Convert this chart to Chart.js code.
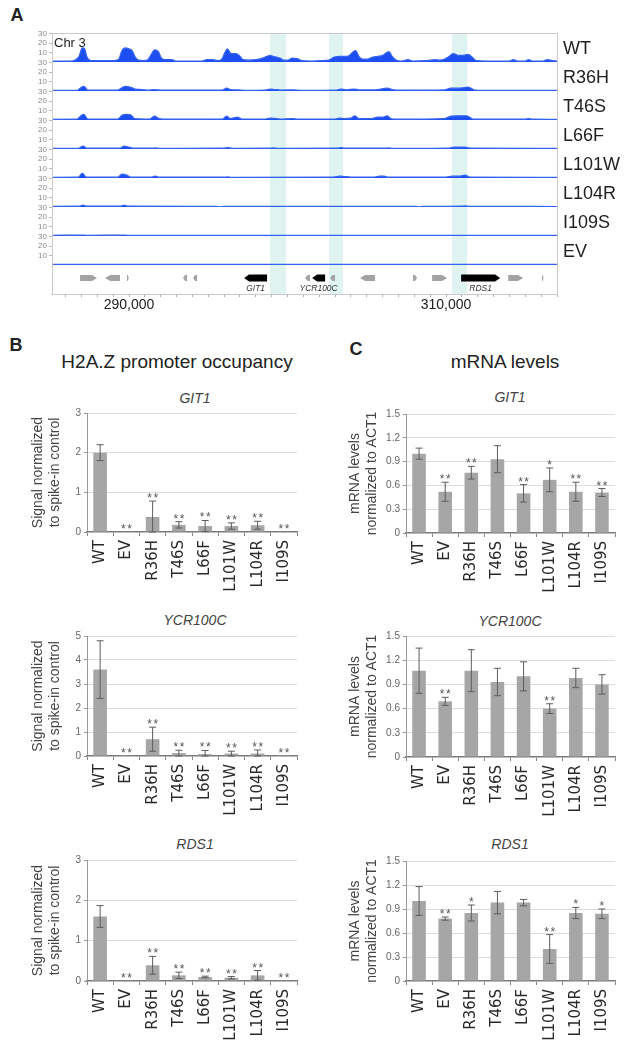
<!DOCTYPE html>
<html>
<head>
<meta charset="utf-8">
<script src="https://cdn.jsdelivr.net/npm/chart.js@4.4.0/dist/chart.umd.min.js"></script>
<style>
  body { margin: 0; background: #fff; }
  #page { position: relative; width: 635px; height: 1050px; overflow: hidden;
          font-family: "Liberation Sans", Arial, sans-serif; color: #222; }
  #page canvas { position: absolute; }
  .t { position: absolute; white-space: nowrap; }
  .c { transform: translate(-50%, -50%); }
  .m { transform: translateY(-50%); }
  .panel { font-weight: bold; font-size: 18px; }
  .head { font-size: 19px; }
  .gtitle { font-style: italic; font-size: 14px; color: #444; }
  .strain { font-size: 18px; }
</style>
</head>
<body>
<div id="page">
  <div class="t c panel" style="left:17px;top:15px">A</div>
  <div class="t c panel" style="left:16px;top:345px">B</div>
  <div class="t c panel" style="left:356px;top:349px">C</div>

  <canvas id="browser"></canvas>
  <div class="t m" style="left:54px;top:42px;font-size:13px">Chr 3</div>
  <div id="strainLabels"></div>

  <div class="t c head" style="left:177px;top:362px">H2A.Z promoter occupancy</div>
  <div class="t c head" style="left:505px;top:362px">mRNA levels</div>

  <div class="t c gtitle" style="left:195px;top:398px">GIT1</div>
  <div class="t c gtitle" style="left:195px;top:620px">YCR100C</div>
  <div class="t c gtitle" style="left:195px;top:844px">RDS1</div>
  <div class="t c gtitle" style="left:510px;top:397px">GIT1</div>
  <div class="t c gtitle" style="left:510px;top:621px">YCR100C</div>
  <div class="t c gtitle" style="left:510px;top:844px">RDS1</div>

  <canvas id="bGit1"></canvas>
  <canvas id="bYcr"></canvas>
  <canvas id="bRds1"></canvas>
  <canvas id="cGit1"></canvas>
  <canvas id="cYcr"></canvas>
  <canvas id="cRds1"></canvas>
</div>
<script>
// ---- panel A: H2A.Z ChIP tracks on chr3, positions in kb ----
const trackNames = ['WT', 'R36H', 'T46S', 'L66F', 'L101W', 'L104R', 'I109S', 'EV'];

const wtCov = [[285.14,1],[286.28,1],[286.59,2],[286.85,6],[287.05,15],[287.2,14],[287.35,5],[287.6,1.5],
  [289.0,1.5],[289.35,3],[289.55,12],[289.75,15],[290.0,14],[290.2,12],[290.4,5],[290.6,2],[290.9,1.5],
  [291.15,2],[291.4,8],[291.62,13],[291.85,11],[292.05,4],[292.3,2.5],[292.7,2.5],[292.95,1],
  [294.6,1],[294.9,2.5],[295.3,2.5],[295.6,1.5],
  [295.85,3],[296.05,10],[296.2,14],[296.45,9],[296.75,9],[296.95,7],[297.2,2.5],
  [297.6,2],[298.0,2.5],[298.4,4],[298.7,6],[298.9,7],[299.1,6],[299.35,5],[299.55,4],[299.75,2],
  [300.0,2],[300.3,4],[300.6,3.5],[300.9,1.5],
  [301.5,1],[302.1,1.5],[302.6,2],[302.9,5],[303.3,6],[303.6,6],[303.9,7],[304.15,11],[304.3,12],
  [304.5,6],[304.75,3],[305.05,3],[305.35,5],[305.7,6],[306.0,7],[306.25,10],[306.4,11],[306.6,6],
  [306.85,2],[307.2,1],[307.6,2.5],[307.9,1],[308.8,1.5],[309.3,2.5],[309.6,2],[309.9,3],[310.2,6],
  [310.45,9],[310.8,7],[311.1,7],[311.4,8],[311.65,5],[311.9,1.5],[312.5,1],[314.0,1],[314.25,2.5],
  [314.5,1],[315.0,1],[315.2,2.5],[315.45,1],[316.1,1],[316.4,2.5],[316.7,1.5],[317.0,1]];
const r36hCov = [[285.14,0.7],[286.7,0.7],[287.0,4],[287.15,5],[287.4,1],[289.3,1],[289.6,4],[289.8,5],
  [290.1,4],[290.4,2],[290.8,1.5],[291.2,1],[291.6,1.5],[292.0,1],[295.9,1],[296.15,3],[296.4,1.5],
  [296.9,1.2],[297.3,0.7],[298.6,1],[298.9,2],[299.2,1.5],[299.6,1],[300.4,1.2],[300.8,0.7],[303.1,1],
  [303.35,2],[303.7,1.2],[304.2,2],[304.5,1.2],[305.5,1.2],[306.3,3],[306.6,1.5],[307.0,0.8],[309.9,1.2],
  [310.3,3],[310.9,3],[311.4,4],[311.8,1],[312.5,0.7],[317.0,0.7]];
const t46sCov = [[285.14,0.7],[286.7,0.8],[287.0,5],[287.15,6],[287.4,1],[289.3,1],[289.55,5],[289.85,6],
  [290.1,5.5],[290.35,1.5],[291.3,1],[291.6,4],[291.9,1.5],[292.3,0.8],[295.9,1],[296.15,4],[296.4,1.5],
  [296.85,3],[297.1,1],[298.6,1],[298.9,2],[299.3,1.5],[299.6,1],[300.3,1.5],[300.6,1],[303.0,1],
  [303.3,2],[303.6,1.5],[304.0,2],[304.25,4.5],[304.5,1.5],[305.3,1.5],[305.7,3],[306.0,3],[306.3,4.5],
  [306.5,1.5],[307.0,0.8],[309.9,1.5],[310.3,4],[310.8,4.5],[311.3,4.5],[311.7,1],[312.5,0.8],
  [315.0,0.8],[315.2,1.5],[315.4,0.8],[317.0,0.7]];
const l66fCov = [[285.14,0.7],[286.8,0.7],[287.1,3],[287.35,0.8],[289.4,0.8],[289.7,3],[290.0,2],[290.3,0.8],
  [291.5,0.8],[291.7,1.2],[291.9,0.7],[296.0,0.8],[296.2,1.5],[296.5,0.7],[298.9,0.8],[299.1,1.2],
  [299.4,0.7],[303.2,0.8],[303.35,1.5],[303.6,0.8],[306.2,0.8],[306.35,1.2],[306.6,0.7],[310.2,1],
  [310.5,2],[311.2,2],[311.5,1],[317.0,0.7]];
const l101wCov = [[285.14,0.7],[286.8,0.8],[287.05,5],[287.3,1],[289.3,0.8],[289.55,4],[289.85,3],[290.1,1],
  [291.4,0.8],[291.65,2],[291.9,0.8],[296.0,0.8],[296.2,1.2],[296.5,0.7],[302.9,1],[303.3,2],[303.6,1.5],
  [304.0,1],[305.5,1],[305.8,2],[306.1,2],[306.3,1],[310.0,1],[310.4,2],[310.9,2],[311.2,3],[311.5,1],
  [317.0,0.7]];
const l104rCov = [[285.14,0.7],[286.9,0.8],[287.1,2],[287.3,0.8],[289.5,0.8],[289.7,2],[289.9,0.8],
  [295.5,0.7],[295.74,0.1],[296.0,0.7],[308.1,0.7],[308.3,0.1],[308.5,0.7],[310.9,0.8],[311.2,1.2],
  [311.5,0.7],[317.0,0.5]];
const i109sCov = [[285.14,0.7],[287.1,1],[287.3,0.7],[289.7,1],[289.9,0.7],[317.0,0.7]];
const evCov = [[285.14,0.7],[317.0,0.7]];

const highlightStart = [298.90, 302.62, 310.38];
const highlightEnd = [299.91, 303.50, 311.33];

const geneStart = [286.91, 288.49, 289.87, 293.41, 294.04, 297.26, 301.11, 301.55, 302.68, 304.58, 307.92, 309.12, 310.95, 313.92, 316.06];
const geneEnd = [287.98, 289.43, 289.98, 293.66, 294.29, 298.71, 301.42, 302.37, 303.00, 305.52, 308.17, 310.07, 313.41, 314.86, 316.15];
const geneStrand = ['+', '-', '+', '-', '-', '-', '-', '-', '-', '-', '+', '+', '+', '+', '+'];
const geneName = ['', '', '', '', '', 'GIT1', '', 'YCR100C', '', '', '', '', 'RDS1', '', ''];
const labelledKb = [290, 310];
const trackTicks = [10, 20, 30];

// ---- panels B and C ----
const strains = ['WT', 'EV', 'R36H', 'T46S', 'L66F', 'L101W', 'L104R', 'I109S'];

const occGit1 = [2.0, 0.01, 0.38, 0.18, 0.15, 0.15, 0.17, 0.01];
const occGit1Err = [0.2, 0, 0.4, 0.08, 0.14, 0.08, 0.1, 0];
const occGit1Sig = ['', '**', '**', '**', '**', '**', '**', '**'];
const occYcr = [3.6, 0.01, 0.7, 0.12, 0.08, 0.1, 0.1, 0.01];
const occYcrErr = [1.2, 0, 0.5, 0.12, 0.15, 0.1, 0.15, 0];
const occYcrSig = ['', '**', '**', '**', '**', '**', '**', '**'];
const occRds1 = [1.6, 0.01, 0.39, 0.14, 0.1, 0.08, 0.14, 0.01];
const occRds1Err = [0.27, 0, 0.22, 0.08, 0.02, 0.03, 0.12, 0];
const occRds1Sig = ['', '**', '**', '**', '**', '**', '**', '**'];

const mrnaGit1 = [1.0, 0.52, 0.76, 0.93, 0.5, 0.67, 0.52, 0.51];
const mrnaGit1Err = [0.07, 0.12, 0.08, 0.17, 0.11, 0.15, 0.12, 0.05];
const mrnaGit1Sig = ['', '**', '**', '', '**', '*', '**', '**'];
const mrnaYcr = [1.07, 0.69, 1.07, 0.93, 1.0, 0.6, 0.98, 0.9];
const mrnaYcrErr = [0.28, 0.05, 0.26, 0.17, 0.18, 0.06, 0.12, 0.12];
const mrnaYcrSig = ['', '**', '', '', '', '**', '', ''];
const mrnaRds1 = [1.0, 0.78, 0.85, 0.98, 0.98, 0.4, 0.85, 0.84];
const mrnaRds1Err = [0.18, 0.02, 0.1, 0.14, 0.04, 0.18, 0.07, 0.06];
const mrnaRds1Sig = ['', '**', '*', '', '', '**', '*', '*'];

const occTitle = ['Signal normalized', 'to spike-in control'];
const mrnaTitle = ['mRNA levels', 'normalized to ACT1'];

// ================= browser panel =================
const coverage = [wtCov, r36hCov, t46sCov, l66fCov, l101wCov, l104rCov, i109sCov, evCov];

// labels to the right of each track
const labelBox = document.getElementById('strainLabels');
trackNames.forEach((name, i) => {
	let d = document.createElement('div');
	d.className = 't m strain';
	d.style.left = '563px';
	d.style.top = (47.5 + 29 * i) + 'px';
	d.textContent = name;
	labelBox.appendChild(d);
});

const highlights = {
	id: 'highlights',
	beforeDatasetsDraw(chart) {
		const { ctx, chartArea, scales: { x } } = chart;
		ctx.save();
		ctx.fillStyle = '#dff3f0';
		highlightStart.forEach((s, i) => {
			const x0 = x.getPixelForValue(s), x1 = x.getPixelForValue(highlightEnd[i]);
			ctx.fillRect(x0, chartArea.top, x1 - x0, chartArea.bottom - chartArea.top);
		});
		ctx.restore();
	},
	afterDatasetsDraw(chart) {
		const { ctx, chartArea, scales: { x, g } } = chart;
		ctx.save();
		// gene models
		const yc = g.getPixelForValue(0.55);
		geneStart.forEach((s, i) => {
			let x0 = x.getPixelForValue(s), x1 = x.getPixelForValue(geneEnd[i]);
			const named = geneName[i] !== '';
			const h = named ? 7 : 6;
			const head = Math.min(5, (x1 - x0) / 2);
			ctx.fillStyle = named ? '#000' : '#a3a3a3';
			ctx.beginPath();
			if (geneStrand[i] === '+') {
				ctx.moveTo(x0, yc - h / 2); ctx.lineTo(x1 - head, yc - h / 2); ctx.lineTo(x1, yc);
				ctx.lineTo(x1 - head, yc + h / 2); ctx.lineTo(x0, yc + h / 2);
			} else {
				ctx.moveTo(x1, yc - h / 2); ctx.lineTo(x0 + head, yc - h / 2); ctx.lineTo(x0, yc);
				ctx.lineTo(x0 + head, yc + h / 2); ctx.lineTo(x1, yc + h / 2);
			}
			ctx.closePath();
			ctx.fill();
			if (named) {
				ctx.font = 'italic 8.5px "Liberation Sans"';
				ctx.fillStyle = '#333';
				ctx.textAlign = 'center';
				ctx.textBaseline = 'middle';
				ctx.fillText(geneName[i], (x0 + x1) / 2, g.getPixelForValue(0.17));
			}
		});
		// frame
		ctx.strokeStyle = '#cacaca';
		ctx.lineWidth = 1;
		ctx.strokeRect(chartArea.left + 0.5, chartArea.top + 0.5, chartArea.right - chartArea.left, chartArea.bottom - chartArea.top);
		ctx.restore();
	}
};

function trackScale() {
	return {
		type: 'linear', position: 'left', stack: 'tracks', stackWeight: 1, min: 0, max: 31,
		afterBuildTicks: s => { s.ticks = trackTicks.map(v => ({ value: v })); },
		ticks: { autoSkip: false, font: { family: 'Liberation Sans', size: 8 }, color: '#8a8a8a', padding: 2 },
		grid: { drawOnChartArea: false, tickLength: 3, color: '#bbbbbb' },
		border: { color: '#cacaca' },
		afterFit: s => { s.width = 22; }
	};
}

// layout stacks place the last left axis on top, so add them bottom-up
const browserScales = {
	x: {
		type: 'linear', position: 'bottom', min: 285.14, max: 317.0,
		ticks: {
			stepSize: 1, autoSkip: false, maxRotation: 0, includeBounds: false, padding: 0,
			font: { family: 'Liberation Sans', size: 14 }, color: '#222',
			callback: v => labelledKb.some(k => Math.abs(k - v) < 1e-6) ? (v * 1000).toLocaleString('en-US') : ''
		},
		grid: { drawOnChartArea: false, tickLength: 3, color: '#aaaaaa' },
		border: { color: '#cacaca' },
		afterFit: s => { s.height = 20; }
	},
	g: {
		type: 'linear', position: 'left', stack: 'tracks', stackWeight: 1, min: 0, max: 1,
		ticks: { display: false }, grid: { display: false }, border: { color: '#cacaca' },
		afterFit: s => { s.width = 22; }
	}
};
for (let i = coverage.length - 1; i >= 0; i--) browserScales['t' + i] = trackScale();

const browserCanvas = document.getElementById('browser');
browserCanvas.width = 635;
browserCanvas.height = 314;
browserCanvas.style.left = '0px';
browserCanvas.style.top = '0px';

new Chart(browserCanvas, {
	type: 'line',
	data: {
		datasets: coverage.map((pts, i) => ({
			label: trackNames[i],
			data: pts.map(p => ({ x: p[0], y: p[1] })),
			xAxisID: 'x', yAxisID: 't' + i,
			borderColor: '#3463f2', backgroundColor: '#1d4ef2', borderWidth: 1.3,
			fill: 'origin', pointRadius: 0, cubicInterpolationMode: 'monotone'
		}))
	},
	options: {
		responsive: false, animation: false,
		layout: { padding: { top: 33, left: 30, right: 78, bottom: 0 } },
		plugins: { legend: { display: false }, tooltip: { enabled: false } },
		scales: browserScales
	},
	plugins: [highlights]
});

// ================= bar panels =================
const errorBars = {
	id: 'errorBars',
	afterDatasetsDraw(chart) {
		const ds = chart.data.datasets[0];
		const meta = chart.getDatasetMeta(0);
		const y = chart.scales.y;
		const ctx = chart.ctx;
		ctx.save();
		ctx.strokeStyle = '#5c5c5c';
		ctx.lineWidth = 1;
		ctx.fillStyle = '#555';
		ctx.font = '12px "Liberation Sans"';
		ctx.textAlign = 'center';
		ctx.textBaseline = 'alphabetic';
		ctx.letterSpacing = '1.5px';
		meta.data.forEach((bar, i) => {
			const v = ds.data[i], e = ds.errs[i];
			const top = y.getPixelForValue(v + e);
			if (e > 0) {
				const bot = y.getPixelForValue(Math.max(v - e, 0));
				ctx.beginPath();
				ctx.moveTo(bar.x, top); ctx.lineTo(bar.x, bot);
				ctx.moveTo(bar.x - 3.5, top); ctx.lineTo(bar.x + 3.5, top);
				ctx.moveTo(bar.x - 3.5, bot); ctx.lineTo(bar.x + 3.5, bot);
				ctx.stroke();
			}
			if (ds.sig[i]) ctx.fillText(ds.sig[i], bar.x + 0.75, top + 1);
		});
		ctx.restore();
	}
};

function barChart(id, box, vals, errs, sig, yMax, yStep, yTitle, titlePad) {
	const cv = document.getElementById(id);
	const padTop = 6, padRight = 12, xAxisH = 64;
	cv.width = box.right - box.left + padRight;
	cv.height = box.bottom - box.top + padTop + xAxisH;
	cv.style.left = box.left + 'px';
	cv.style.top = (box.top - padTop) + 'px';

	return new Chart(cv, {
		type: 'bar',
		data: {
			labels: strains,
			datasets: [{
				data: vals, errs: errs, sig: sig,
				backgroundColor: '#a6a6a6', categoryPercentage: 1, barPercentage: 0.52
			}]
		},
		options: {
			responsive: false, animation: false,
			layout: { padding: { top: padTop, right: padRight, left: 0, bottom: 0 } },
			plugins: { legend: { display: false }, tooltip: { enabled: false } },
			scales: {
				x: {
					ticks: { autoSkip: false, minRotation: 90, maxRotation: 90, padding: 4,
						font: { family: 'DejaVu Sans', size: 15 }, color: '#2a2a2a' },
					grid: { drawOnChartArea: false, tickLength: 4, color: '#888' },
					border: { color: '#7a7a7a', width: 1.5 },
					afterFit: s => { s.height = xAxisH; }
				},
				y: {
					min: 0, max: yMax,
					ticks: { stepSize: yStep, padding: 3, font: { family: 'Liberation Sans', size: 10 }, color: '#666' },
					grid: { color: c => c.tick.value === 0 ? 'rgba(0,0,0,0)' : '#dcdcdc', tickLength: 3, tickColor: '#999' },
					border: { color: '#999' },
					title: { display: true, text: yTitle, color: '#444',
						font: { family: 'Liberation Sans', size: 14, lineHeight: 1.2 },
						padding: { top: titlePad, bottom: 0 } },
					afterFit: s => { s.width = box.areaLeft - box.left; }
				}
			}
		},
		plugins: [errorBars]
	});
}

const colB = { left: 20, areaLeft: 87, right: 297 };
const colC = { left: 330, areaLeft: 406, right: 615 };
const row = (col, top, bottom) => Object.assign({ top: top, bottom: bottom }, col);

barChart('bGit1', row(colB, 410, 532), occGit1, occGit1Err, occGit1Sig, 3, 1, occTitle, 9.6);
barChart('bYcr', row(colB, 633, 756), occYcr, occYcrErr, occYcrSig, 5, 1, occTitle, 9.6);
barChart('bRds1', row(colB, 857, 981), occRds1, occRds1Err, occRds1Sig, 3, 1, occTitle, 9.6);
barChart('cGit1', row(colC, 411, 533), mrnaGit1, mrnaGit1Err, mrnaGit1Sig, 1.5, 0.3, mrnaTitle, 16.6);
barChart('cYcr', row(colC, 633, 757), mrnaYcr, mrnaYcrErr, mrnaYcrSig, 1.5, 0.3, mrnaTitle, 16.6);
barChart('cRds1', row(colC, 858, 981), mrnaRds1, mrnaRds1Err, mrnaRds1Sig, 1.5, 0.3, mrnaTitle, 16.6);
</script>
</body>
</html>
